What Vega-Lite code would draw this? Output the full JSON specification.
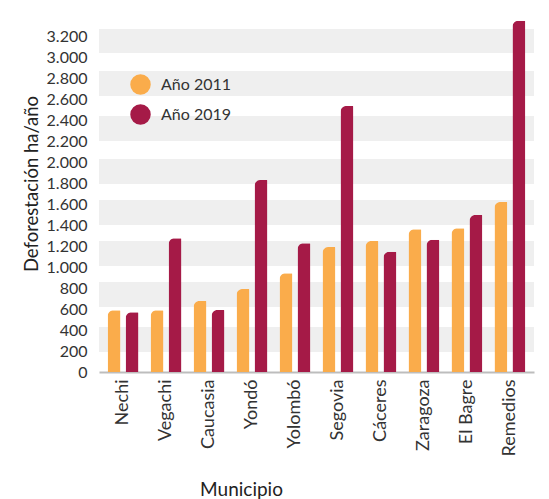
{
  "$schema": "https://vega.github.io/schema/vega-lite/v6.json",
  "width": 435,
  "height": 356,
  "autosize": {"type": "none"},
  "padding": {"left": 99, "top": 16, "right": 15, "bottom": 127},
  "background": "white",
  "config": {
    "font": "Lato",
    "view": {"stroke": null},
    "axis": {"labelColor": "#333333", "titleColor": "#222222", "titleFontWeight": "normal"}
  },
  "datasets": {
    "bandas": [
      {"desde": 3047, "hasta": 3276},
      {"desde": 2636, "hasta": 2875},
      {"desde": 2206, "hasta": 2445},
      {"desde": 1796, "hasta": 2034},
      {"desde": 1404, "hasta": 1643},
      {"desde": 1012, "hasta": 1251},
      {"desde": 621, "hasta": 860},
      {"desde": 191, "hasta": 430}
    ],
    "deforestacion": [
      {"municipio": "Nechi", "anio": "Año 2011", "valor": 590},
      {"municipio": "Nechi", "anio": "Año 2019", "valor": 570},
      {"municipio": "Vegachi", "anio": "Año 2011", "valor": 590},
      {"municipio": "Vegachi", "anio": "Año 2019", "valor": 1277},
      {"municipio": "Caucasia", "anio": "Año 2011", "valor": 678},
      {"municipio": "Caucasia", "anio": "Año 2019", "valor": 592},
      {"municipio": "Yondó", "anio": "Año 2011", "valor": 793},
      {"municipio": "Yondó", "anio": "Año 2019", "valor": 1834},
      {"municipio": "Yolombó", "anio": "Año 2011", "valor": 943},
      {"municipio": "Yolombó", "anio": "Año 2019", "valor": 1229},
      {"municipio": "Segovia", "anio": "Año 2011", "valor": 1194},
      {"municipio": "Segovia", "anio": "Año 2019", "valor": 2541},
      {"municipio": "Cáceres", "anio": "Año 2011", "valor": 1251},
      {"municipio": "Cáceres", "anio": "Año 2019", "valor": 1149},
      {"municipio": "Zaragoza", "anio": "Año 2011", "valor": 1363},
      {"municipio": "Zaragoza", "anio": "Año 2019", "valor": 1264},
      {"municipio": "El Bagre", "anio": "Año 2011", "valor": 1372},
      {"municipio": "El Bagre", "anio": "Año 2019", "valor": 1499},
      {"municipio": "Remedios", "anio": "Año 2011", "valor": 1624},
      {"municipio": "Remedios", "anio": "Año 2019", "valor": 3355}
    ]
  },
  "layer": [
    {
      "data": {"name": "bandas"},
      "mark": {"type": "rect", "color": "#efefef"},
      "encoding": {
        "x": {"value": 0},
        "x2": {"value": "width"},
        "y": {
          "field": "desde",
          "type": "quantitative",
          "scale": {"domain": [0, 3400]},
          "axis": {
            "title": "Deforestación ha/año",
            "values": [0, 200, 400, 600, 800, 1000, 1200, 1400, 1600, 1800, 2000, 2200, 2400, 2600, 2800, 3000, 3200],
            "labelExpr": "replace(format(datum.value, ',d'), ',', '.')",
            "labelFontSize": 16,
            "labelPadding": 12,
            "ticks": false,
            "domain": false,
            "grid": false,
            "titleFontSize": 18.5,
            "titleAngle": -90,
            "titleX": -68,
            "titleY": 167.5,
            "titleAlign": "center",
            "titleBaseline": "middle"
          }
        },
        "y2": {"field": "hasta"}
      }
    },
    {
      "data": {"name": "deforestacion"},
      "mark": {"type": "bar", "cornerRadiusTopLeft": 6, "cornerRadiusTopRight": 1},
      "encoding": {
        "x": {
          "field": "municipio",
          "type": "nominal",
          "sort": null,
          "scale": {"paddingInner": 0.28, "paddingOuter": 0.2},
          "axis": {
            "title": "Municipio",
            "labelAngle": -90,
            "labelAlign": "right",
            "labelBaseline": "middle",
            "labelFontSize": 18,
            "labelPadding": 7,
            "ticks": false,
            "domainColor": "#bdbdbd",
            "domainWidth": 2,
            "titleFontSize": 19,
            "titleX": 142,
            "titleY": 123,
            "titleAlign": "center",
            "titleBaseline": "alphabetic"
          }
        },
        "xOffset": {"field": "anio", "type": "nominal", "sort": ["Año 2011", "Año 2019"], "scale": {"paddingInner": 0.28, "paddingOuter": 0}},
        "y": {
          "field": "valor",
          "type": "quantitative",
          "scale": {"domain": [0, 3400]},
          "axis": {
            "title": "Deforestación ha/año",
            "values": [0, 200, 400, 600, 800, 1000, 1200, 1400, 1600, 1800, 2000, 2200, 2400, 2600, 2800, 3000, 3200],
            "labelExpr": "replace(format(datum.value, ',d'), ',', '.')",
            "labelFontSize": 16,
            "labelPadding": 12,
            "ticks": false,
            "domain": false,
            "grid": false,
            "titleFontSize": 18.5,
            "titleAngle": -90,
            "titleX": -68,
            "titleY": 167.5,
            "titleAlign": "center",
            "titleBaseline": "middle"
          }
        },
        "color": {
          "field": "anio",
          "type": "nominal",
          "scale": {"domain": ["Año 2011", "Año 2019"], "range": ["#FAAC4B", "#A51A47"]},
          "legend": {
            "title": null,
            "orient": "none",
            "legendX": 31,
            "legendY": 58,
            "padding": 0,
            "symbolType": "circle",
            "symbolSize": 420,
            "symbolStrokeWidth": 0,
            "labelFontSize": 16,
            "labelColor": "#333333",
            "labelOffset": 10,
            "rowPadding": 9
          }
        }
      }
    }
  ]
}
